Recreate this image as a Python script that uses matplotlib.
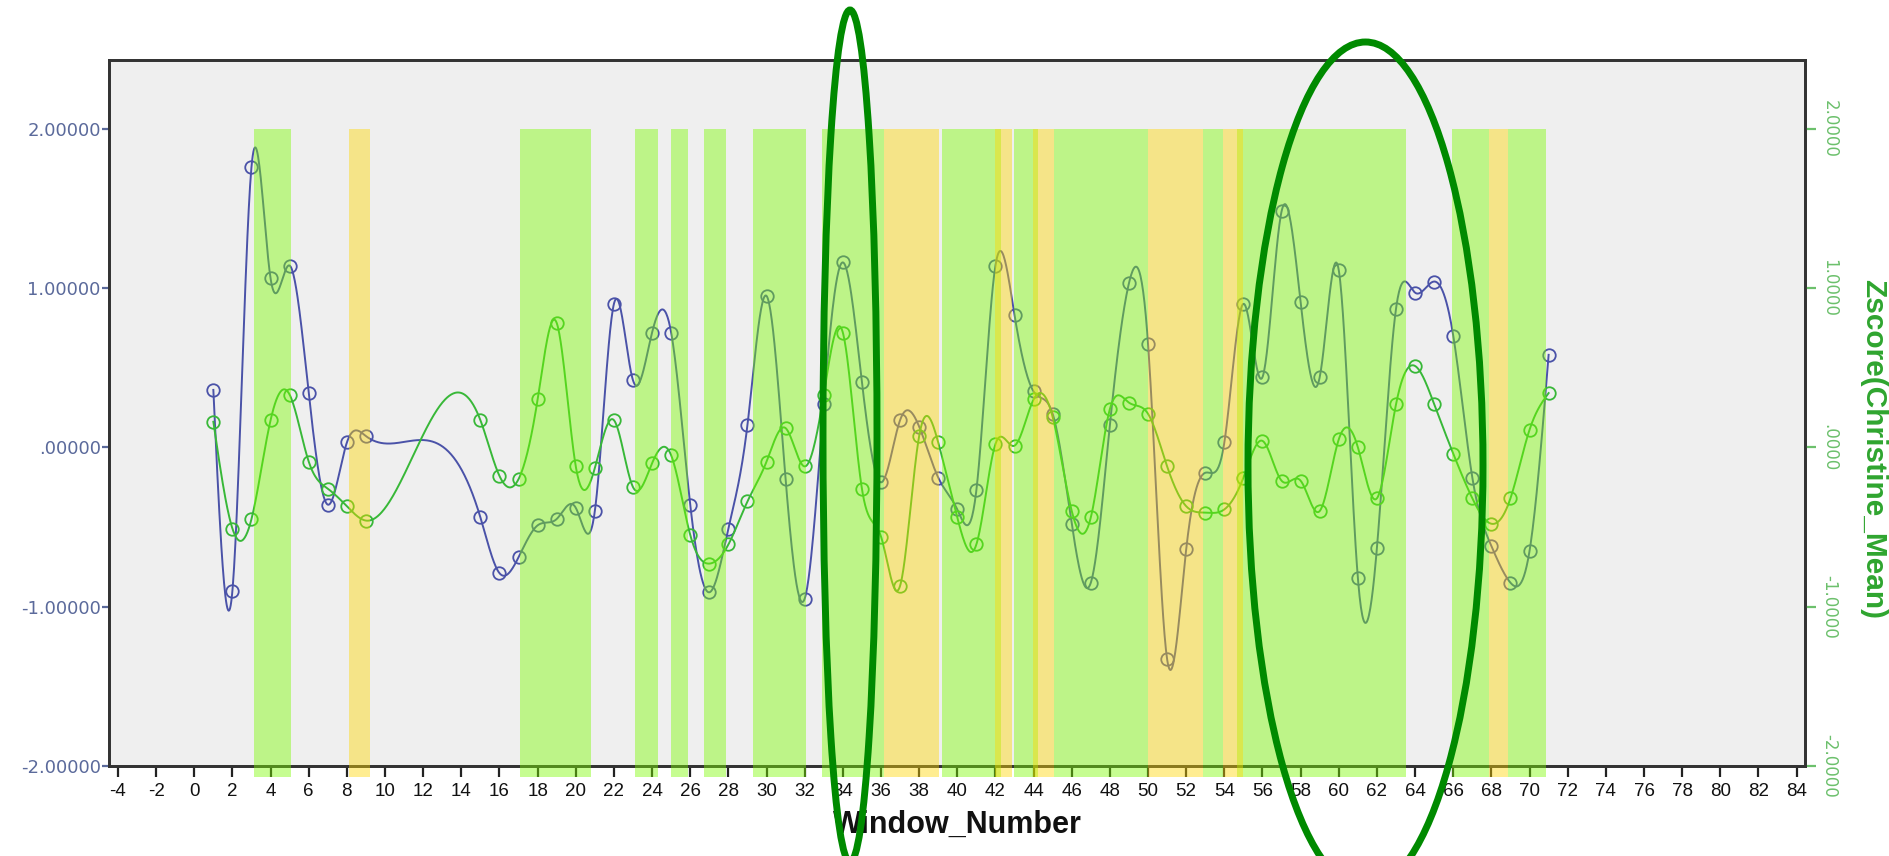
import numpy as np
import matplotlib
matplotlib.use("Agg")
import matplotlib.pyplot as plt
from matplotlib.patches import Ellipse

# ---------------- data ----------------
window = list(range(1, 10)) + list(range(15, 72))
zscore_blue = [0.36, -0.90, 1.76, 1.06, 1.14, 0.34, -0.36, 0.03, 0.07,
               -0.44, -0.79, -0.69, -0.49, -0.45, -0.38, -0.40, 0.90, 0.42, 0.72,
               0.72, -0.36, -0.91, -0.51, 0.14, 0.95, -0.20, -0.95, 0.27, 1.16,
               0.41, -0.22, 0.17, 0.13, -0.19, -0.39, -0.27, 1.14, 0.83, 0.35,
               0.21, -0.48, -0.85, 0.14, 1.03, 0.65, -1.33, -0.64, -0.16, 0.03,
               0.90, 0.44, 1.48, 0.91, 0.44, 1.11, -0.82, -0.63, 0.87, 0.97,
               1.04, 0.70, -0.19, -0.62, -0.85, -0.65, 0.58]
zscore_christine = [0.16, -0.51, -0.45, 0.17, 0.33, -0.09, -0.26, -0.37, -0.46,
                    0.17, -0.18, -0.20, 0.30, 0.78, -0.12, -0.13, 0.17, -0.25, -0.10,
                    -0.05, -0.55, -0.73, -0.61, -0.34, -0.09, 0.12, -0.12, 0.33, 0.72,
                    -0.26, -0.56, -0.87, 0.07, 0.03, -0.44, -0.61, 0.02, 0.01, 0.30,
                    0.19, -0.40, -0.44, 0.24, 0.28, 0.21, -0.12, -0.37, -0.41, -0.39,
                    -0.19, 0.04, -0.21, -0.21, -0.40, 0.05, 0.00, -0.32, 0.27, 0.51,
                    0.27, -0.04, -0.32, -0.48, -0.32, 0.11, 0.34]
green_bands = [(3.13, 5.08), (17.05, 20.8), (23.1, 24.3), (25.0, 25.9), (26.7, 27.85),
               (29.3, 32.05), (32.9, 36.15), (39.2, 42.3), (42.97, 44.25),
               (45.07, 49.98), (52.89, 53.95), (54.65, 63.5), (65.95, 67.87),
               (68.87, 70.87)]
yellow_bands = [(8.1, 9.2), (36.15, 39.06), (41.96, 42.87), (43.97, 45.07),
                (49.98, 52.89), (53.93, 54.99), (67.87, 68.87)]
x_ticks = list(range(-4, 85, 2))
y_ticks = [-2, -1, 0, 1, 2]
left_labels = ["-2.00000", "-1.00000", ".00000", "1.00000", "2.00000"]
right_labels = ["-2.0000", "-1.0000", ".0000", "1.0000", "2.0000"]


def natural_cubic(x, y, xs):
    x = np.asarray(x, float)
    y = np.asarray(y, float)
    n = len(x)
    h = np.diff(x)
    A = np.zeros((n, n))
    r = np.zeros(n)
    A[0, 0] = 1
    A[-1, -1] = 1
    for i in range(1, n - 1):
        A[i, i - 1] = h[i - 1]
        A[i, i] = 2 * (h[i - 1] + h[i])
        A[i, i + 1] = h[i]
        r[i] = 6 * ((y[i + 1] - y[i]) / h[i] - (y[i] - y[i - 1]) / h[i - 1])
    M = np.linalg.solve(A, r)
    idx = np.clip(np.searchsorted(x, xs) - 1, 0, n - 2)
    x0 = x[idx]
    x1 = x[idx + 1]
    hh = x1 - x0
    a = (x1 - xs) / hh
    b = (xs - x0) / hh
    return a * y[idx] + b * y[idx + 1] + ((a ** 3 - a) * M[idx] + (b ** 3 - b) * M[idx + 1]) * hh ** 2 / 6


W, H = 1889, 856
fig = plt.figure(figsize=(W / 100, H / 100), dpi=100)
fig.patch.set_facecolor("white")
ax = fig.add_axes([109 / W, 1 - 766 / H, (1805 - 109) / W, (766 - 60) / H])
ax.set_facecolor("#efefef")

blue_c = "#4a52a8"
green_c = "#38b838"

xs = np.linspace(min(window), max(window), 2000)
ax.plot(xs, natural_cubic(window, zscore_blue, xs), color=blue_c, lw=1.4, zorder=2)
ax.plot(window, zscore_blue, "o", mfc="none", mec=blue_c, ms=9, mew=1.3, zorder=3)

ax2 = ax.twinx()
ax2.plot(xs, natural_cubic(window, zscore_christine, xs), color=green_c, lw=1.4, zorder=2)
ax2.plot(window, zscore_christine, "o", mfc="none", mec=green_c, ms=9, mew=1.3, zorder=3)

for a, b in green_bands:
    ax2.bar(a, 4.07, bottom=-2.07, width=b - a, align="edge", color="#7cfc00",
            alpha=0.43, lw=0, clip_on=False, zorder=4)
for a, b in yellow_bands:
    ax2.bar(a, 4.07, bottom=-2.07, width=b - a, align="edge", color="#ffd700",
            alpha=0.43, lw=0, clip_on=False, zorder=4)

for axis in (ax, ax2):
    axis.set_xlim(-4.47, 84.44)
    axis.set_ylim(-2.0, 2.43)
    for s in axis.spines.values():
        s.set_color("#333333")
        s.set_linewidth(2)

ax.set_xticks(x_ticks)
ax.set_xticklabels([str(t) for t in x_ticks], family="Liberation Sans")
ax.tick_params(axis="x", direction="out", length=8, width=1.6, color="#222222",
               pad=4, labelsize=13.5, labelcolor="#111111")
ax.set_yticks(y_ticks)
ax.set_yticklabels(left_labels, family="DejaVu Sans")
ax.tick_params(axis="y", direction="out", length=5, width=1.6, color="#5b6a9b",
               labelcolor="#5b6a9b", labelsize=13, pad=1)

ax2.set_yticks(y_ticks)
ax2.set_yticklabels(right_labels, family="DejaVu Sans")
ax2.tick_params(axis="y", direction="out", length=8, width=1.6, color="#6cc06c",
                labelcolor="#6cc06c", labelsize=12, pad=3)
for t in ax2.get_yticklabels():
    t.set_rotation(-90)
    t.set_va("center")

ax.set_xlabel("Window_Number", fontsize=22, fontweight="bold", family="Liberation Sans",
              color="#111111")
ax.xaxis.set_label_coords(0.5, -0.084)
ax.xaxis.label.set_va("center")

ax2.set_ylabel("Zscore(Christine_Mean)", fontsize=21.5, fontweight="bold",
               family="Liberation Sans", color="#2fa52f", rotation=-90)
ax2.yaxis.set_label_coords(1.040, 0.449)
ax2.yaxis.label.set_va("center")
ax2.yaxis.label.set_ha("center")

# annotation ellipses
fig.add_artist(Ellipse((850 / W, 420 / H), 54 / W, 852 / H, transform=fig.transFigure,
                       fill=False, ec="#008a00", lw=5, zorder=10))
fig.add_artist(Ellipse((1365.5 / W, 390.5 / H), 235 / W, 847 / H, transform=fig.transFigure,
                       fill=False, ec="#008a00", lw=5, zorder=10))

fig.savefig("out.png", dpi=100, facecolor="white")
